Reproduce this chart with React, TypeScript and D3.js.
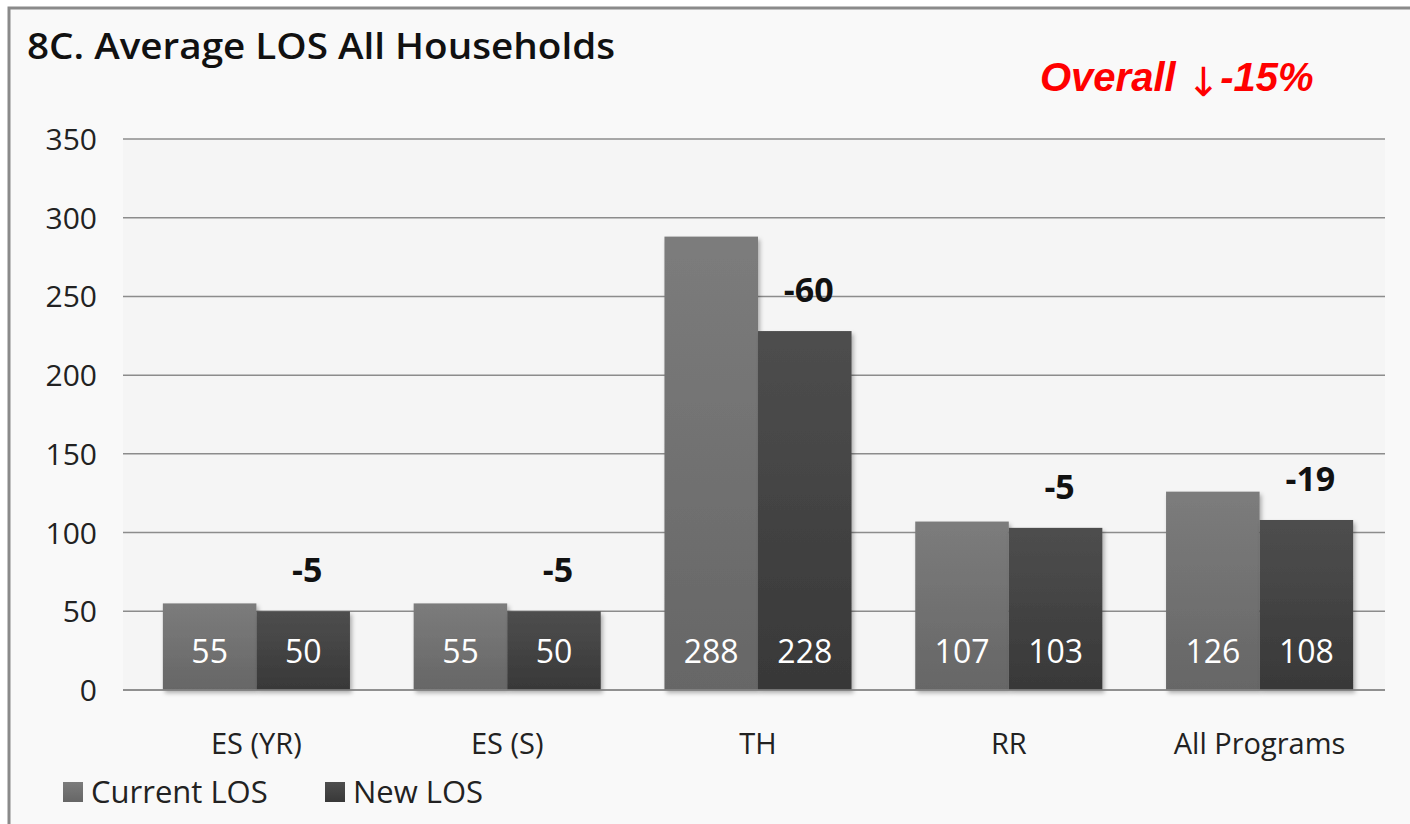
import React from "react";
import * as d3 from "d3";

const categories = ["ES (YR)", "ES (S)", "TH", "RR", "All Programs"];
const currentLOS = [55, 55, 288, 107, 126];
const newLOS = [50, 50, 228, 103, 108];
const diffLabels = ["-5", "-5", "-60", "-5", "-19"];
const yTicks = [0, 50, 100, 150, 200, 250, 300, 350];
const seriesNames = ["Current LOS", "New LOS"];

const W = 1410;
const H = 824;
const margin = { top: 139, right: 25, bottom: 134, left: 123 };
const font = "'Open Sans', 'Noto Sans', sans-serif";

export default function App() {
  const x = d3
    .scaleBand()
    .domain(categories)
    .range([131, W - margin.right])
    .paddingInner(0.254)
    .paddingOuter(0.127);
  const inner = d3
    .scaleBand()
    .domain(seriesNames)
    .range([0, x.bandwidth()]);
  const y = d3
    .scaleLinear()
    .domain([0, 350])
    .range([H - margin.bottom, margin.top]);

  const series = [currentLOS, newLOS];
  const fills = ["url(#gCur)", "url(#gNew)"];
  const redFont = "'Liberation Sans', Arial, sans-serif";

  return (
    <svg
      width={W}
      height={H}
      style={{ position: "absolute", left: 0, top: 0 }}
      fontFamily={font}
    >
      <defs>
        <linearGradient id="gCur" x1="0" y1="0" x2="0" y2="1">
          <stop offset="0" stopColor="#7c7c7c" />
          <stop offset="1" stopColor="#666" />
        </linearGradient>
        <linearGradient id="gNew" x1="0" y1="0" x2="0" y2="1">
          <stop offset="0" stopColor="#4e4e4e" />
          <stop offset="1" stopColor="#383838" />
        </linearGradient>
        <filter id="sh" x="-10%" y="-10%" width="130%" height="130%">
          <feDropShadow dx="2" dy="3" stdDeviation="2" floodColor="#000" floodOpacity="0.3" />
        </filter>
      </defs>
      <rect x={0} y={0} width={W} height={H} fill="#fff" />
      <rect x={9} y={8} width={W + 10} height={H + 10} fill="#f9f9f9" stroke="#8a8a8a" strokeWidth={3} />
      <rect
        x={margin.left}
        y={margin.top}
        width={W - margin.left - margin.right}
        height={H - margin.top - margin.bottom}
        fill="#f5f5f5"
      />

      <text
        x={27}
        y={59}
        fontSize={36}
        fontWeight={600}
        fill="#111"
        textLength={588}
        lengthAdjust="spacingAndGlyphs"
      >
        8C. Average LOS All Households
      </text>
      <text
        x={1040}
        y={91}
        fill="#ff0000"
        fontFamily={redFont}
        fontSize={40}
        fontWeight="bold"
        fontStyle="italic"
      >
        Overall{" "}
        <tspan
          dy={5}
          fontFamily="'DejaVu Sans', sans-serif"
          fontWeight="normal"
          fontStyle="normal"
          fontSize={40}
        >
          ↓
        </tspan>
        <tspan dy={-5}>-15%</tspan>
      </text>

      {yTicks.map((t) => (
        <g key={t}>
          <line
            x1={margin.left}
            x2={W - margin.right}
            y1={y(t)}
            y2={y(t)}
            stroke="#8c8c8c"
            strokeWidth={1.5}
          />
          <text x={97} y={y(t) + 11} textAnchor="end" fontSize={30} fill="#222">
            {t}
          </text>
        </g>
      ))}

      {categories.map((c, i) => (
        <g key={c}>
          {series.map((s, j) => {
            const bx = (x(c) ?? 0) + (inner(seriesNames[j]) ?? 0);
            return (
              <rect
                key={j}
                x={bx}
                y={y(s[i])}
                width={inner.bandwidth()}
                height={y(0) - y(s[i])}
                fill={fills[j]}
                filter="url(#sh)"
              />
            );
          })}
          {series.map((s, j) => {
            const bx = (x(c) ?? 0) + (inner(seriesNames[j]) ?? 0);
            return (
              <text
                key={"l" + j}
                x={bx + inner.bandwidth() / 2}
                y={y(0) - 27}
                textAnchor="middle"
                fontSize={32}
                fill="#fff"
              >
                {s[i]}
              </text>
            );
          })}
          <text
            x={(x(c) ?? 0) + (inner(seriesNames[1]) ?? 0) + inner.bandwidth() / 2 + 4}
            y={y(newLOS[i]) - 29}
            textAnchor="middle"
            fontSize={34}
            fontWeight="bold"
            fill="#111"
          >
            {diffLabels[i]}
          </text>
          <text
            x={(x(c) ?? 0) + x.bandwidth() / 2}
            y={754}
            textAnchor="middle"
            fontSize={29}
            fill="#222"
          >
            {c}
          </text>
        </g>
      ))}

      <line
        x1={margin.left}
        x2={W - margin.right}
        y1={y(0)}
        y2={y(0)}
        stroke="#888"
        strokeWidth={1.5}
      />

      {seriesNames.map((n, j) => {
        const lx = [63, 325][j];
        return (
          <g key={n}>
            <rect x={lx} y={782} width={20} height={20} fill={fills[j]} />
            <text x={lx + 28} y={803} fontSize={31} fill="#222">
              {n}
            </text>
          </g>
        );
      })}
    </svg>
  );
}
